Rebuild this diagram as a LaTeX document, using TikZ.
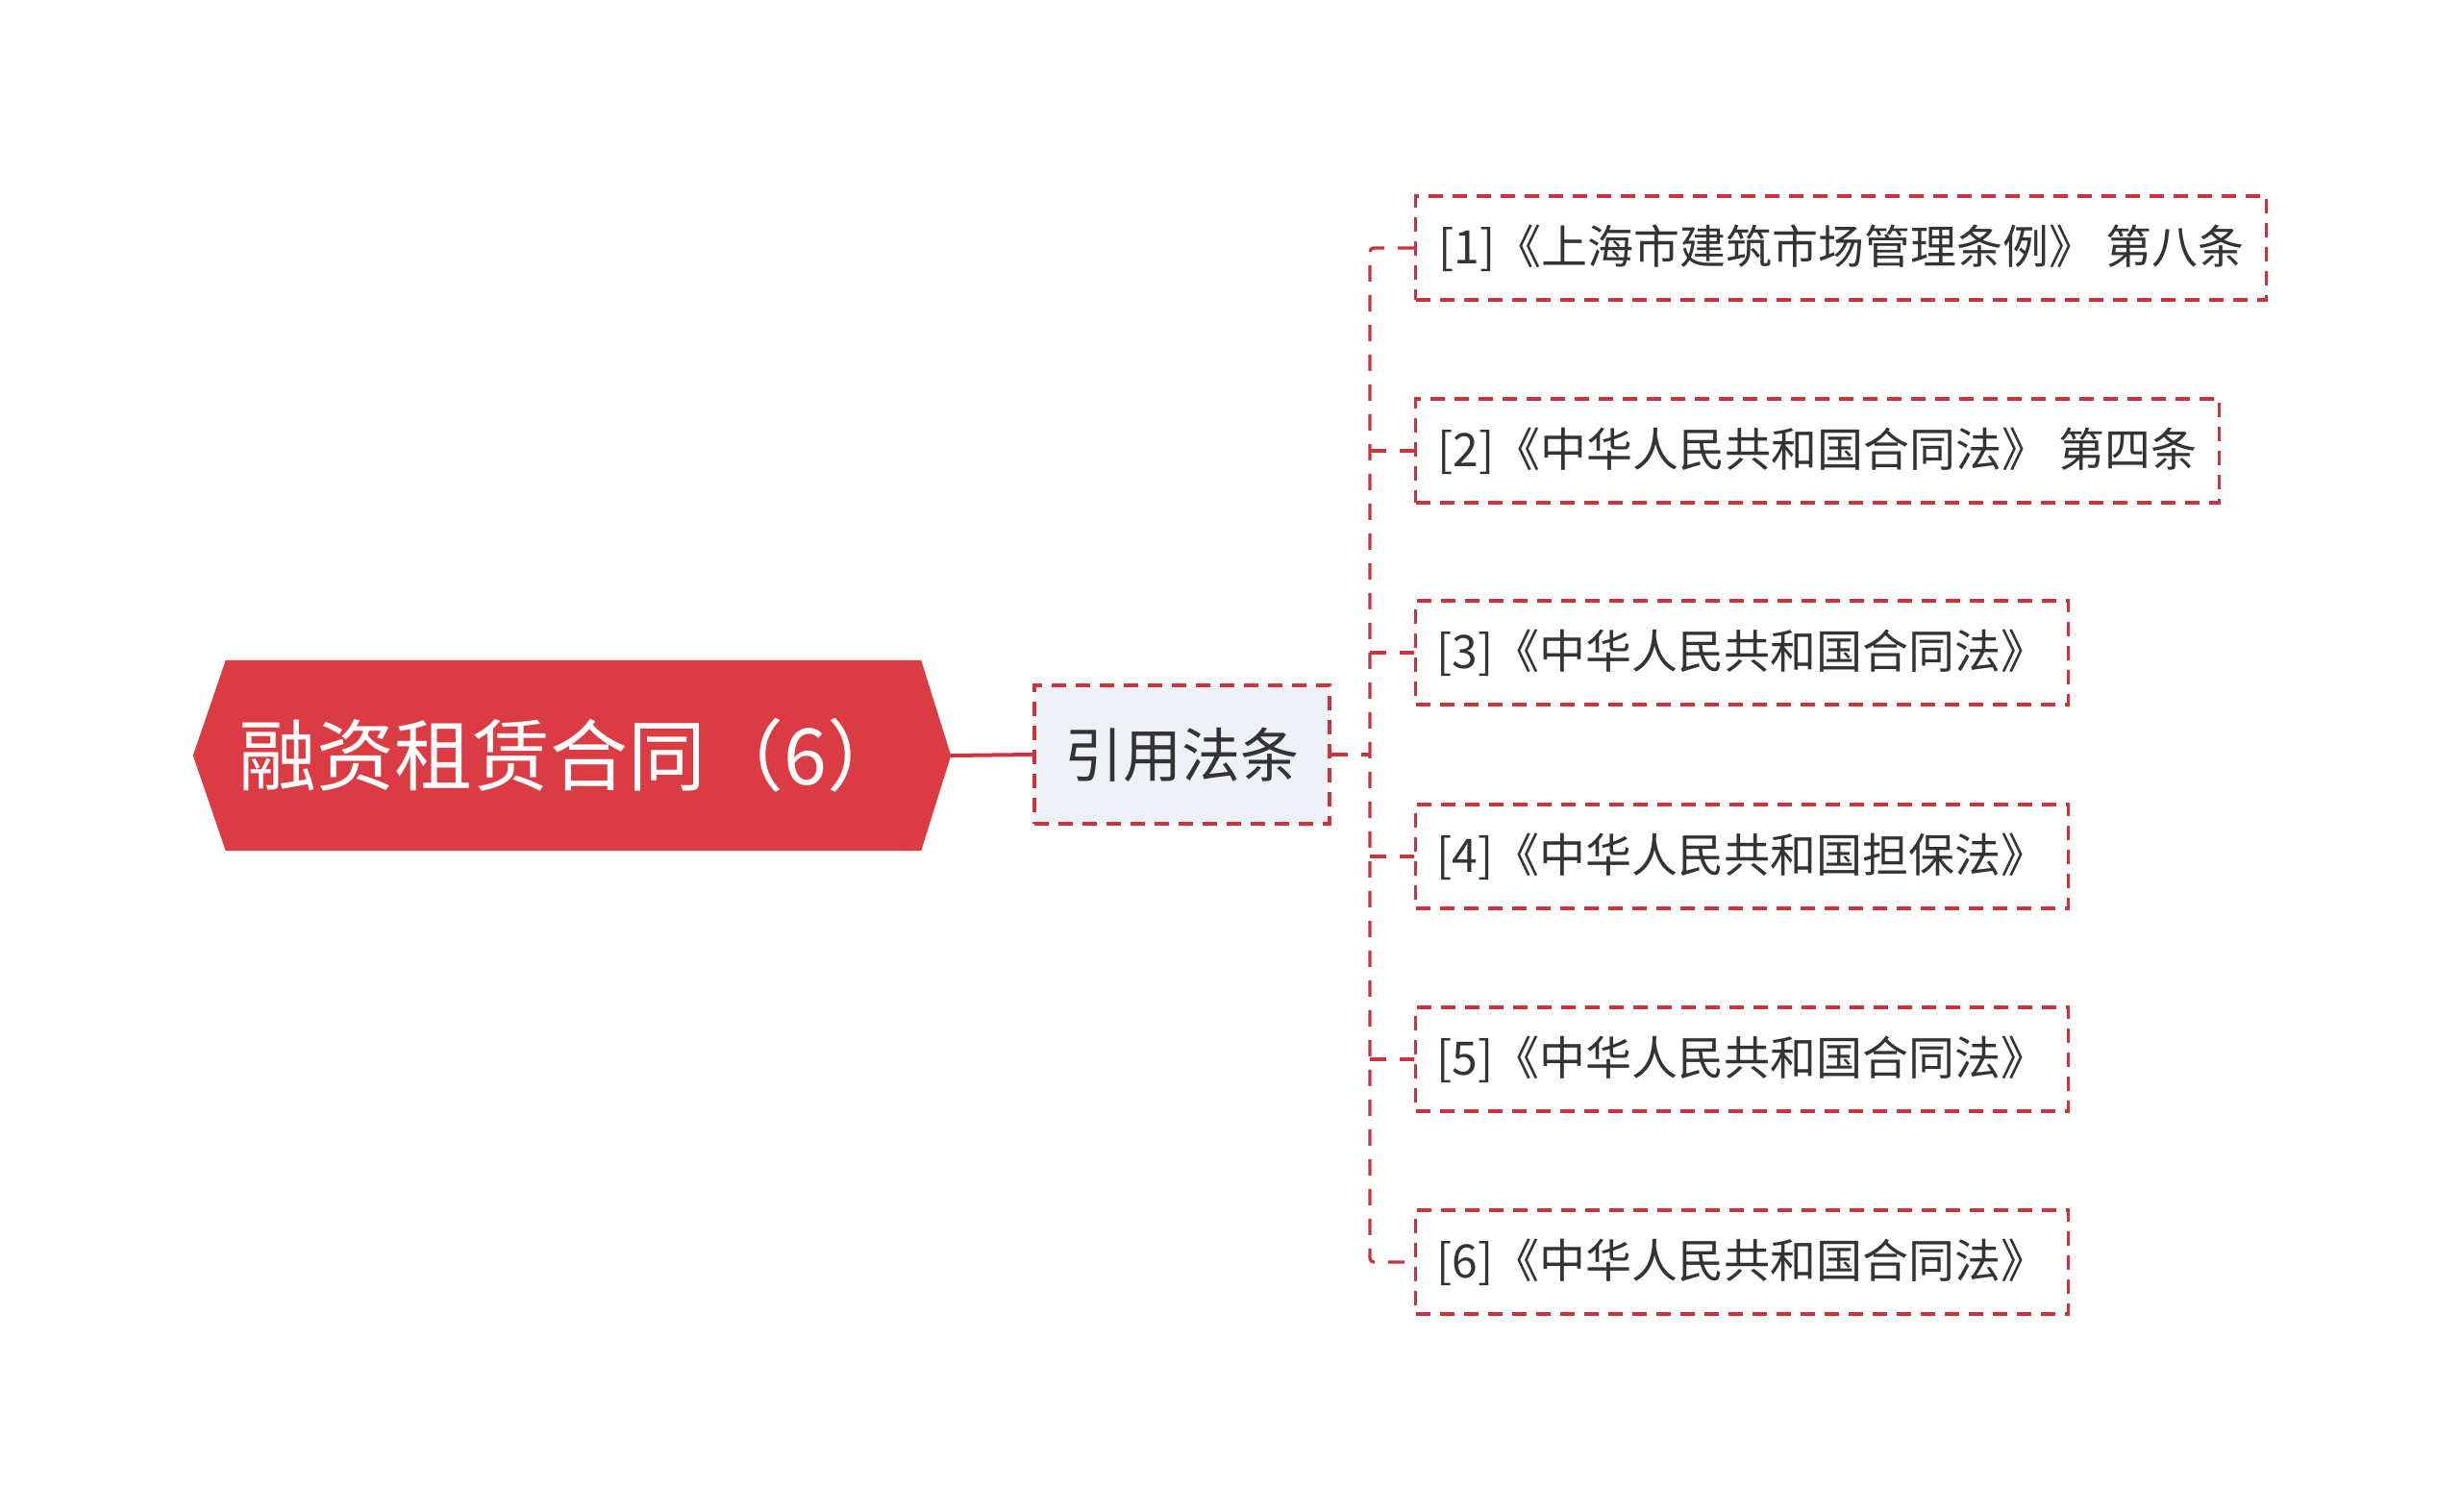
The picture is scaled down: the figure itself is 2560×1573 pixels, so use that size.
\documentclass[tikz,border=0pt]{standalone}
\usepackage{fontspec}
\usetikzlibrary{backgrounds}
\setmainfont{Noto Sans CJK SC}
\definecolor{rootcol}{RGB}{219,59,66}
\definecolor{linecol}{RGB}{204,51,61}
\definecolor{midfill}{RGB}{238,241,245}
\definecolor{txtcol}{RGB}{51,51,51}
\tikzset{rootbox/.style={inner sep=0pt,minimum width=788,minimum height=198,text=white,font=\fontsize{81}{96}\selectfont}}
\tikzset{midbox/.style={draw=linecol,fill=midfill,line width=3.3pt,dash pattern=on 15pt off 10pt,minimum width=307,minimum height=144,inner sep=0pt,text=txtcol,font=\fontsize{61}{72}\selectfont}}
\tikzset{leaf/.style={draw=linecol,line width=3.3pt,dash pattern=on 15pt off 10pt,minimum height=108,inner sep=0pt,anchor=west,text=txtcol,font=\fontsize{48}{58}\selectfont}}
\tikzset{link/.style={linecol,line width=3.3pt,dash pattern=on 17pt off 14pt,rounded corners=4pt}}

\begin{document}
\begin{tikzpicture}[x=1pt,y=-1pt]
\useasboundingbox (0,0) rectangle (2560,1573);

\node [rootbox] (root) at (595,786) {融资租赁合同（6）};
\begin{scope}[on background layer]
\fill [rootcol] (root.west) -- ([xshift=34pt]root.north west) -- ([xshift=-31pt]root.north east)
  -- (root.east) -- ([xshift=-31pt]root.south east) -- ([xshift=34pt]root.south west) -- cycle;
\end{scope}

\node [midbox] (mid) at (1229.5,785) {引用法条};

\coordinate (trunk) at (1425,785);

\node [leaf,minimum width=885] (l1) at (1471,258) {[1]《上海市建筑市场管理条例》 第八条};
\node [leaf,minimum width=836] (l2) at (1471,469) {[2]《中华人民共和国合同法》 第四条};
\node [leaf,minimum width=679] (l3) at (1471,679) {[3]《中华人民共和国合同法》};
\node [leaf,minimum width=679] (l4) at (1471,891) {[4]《中华人民共和国担保法》};
\node [leaf,minimum width=679] (l5) at (1471,1102) {[5]《中华人民共和国合同法》};
\node [leaf,minimum width=679] (l6) at (1471,1313) {[6]《中华人民共和国合同法》};

\draw [linecol,line width=4pt] (root.east) -- (mid.west);
\draw [link] (mid.east) -- (trunk);

\draw [link] (l1.west) -| (trunk) |- (l6.west);
\draw [link] (trunk |- l2.west) -- (l2.west);
\draw [link] (trunk |- l3.west) -- (l3.west);
\draw [link] (trunk |- l4.west) -- (l4.west);
\draw [link] (trunk |- l5.west) -- (l5.west);
\end{tikzpicture}
\end{document}
